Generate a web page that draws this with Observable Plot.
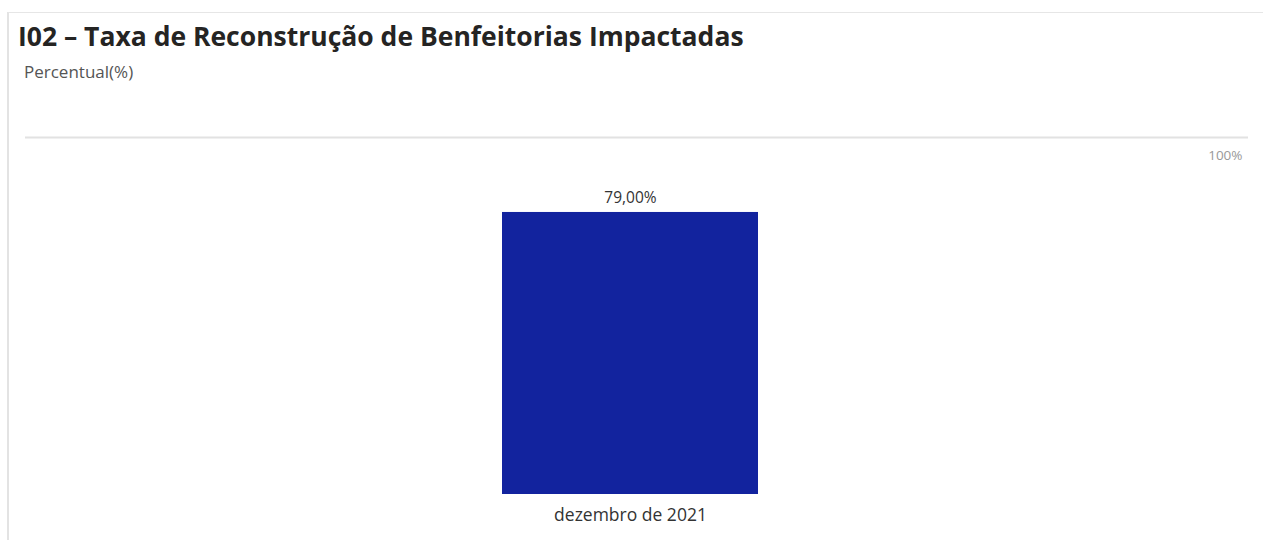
<!DOCTYPE html>
<html>
<head>
<meta charset="utf-8">
<script src="https://cdn.jsdelivr.net/npm/d3@7"></script>
<script src="https://cdn.jsdelivr.net/npm/@observablehq/plot@0.6"></script>
<style>
  html, body { margin: 0; padding: 0; background: #fff; width: 1263px; height: 540px; overflow: hidden; }
  #frame { position: absolute; left: 7px; top: 12px; width: 1256px; height: 528px;
           border-left: 2px solid #e3e3e3; border-top: 1px solid #e6e6e6; }
  #title { position: absolute; left: 18px; top: 18px; font-family: "Open Sans", sans-serif;
           font-weight: 700; font-size: 26.5px; line-height: 36px; color: #252423; white-space: nowrap; }
  #subtitle { position: absolute; left: 24px; top: 61px; font-family: "Open Sans", sans-serif;
           font-size: 17px; line-height: 22px; color: #555; white-space: nowrap; }
  #chart { position: absolute; left: 0; top: 100px; }
</style>
</head>
<body>
<div id="frame"></div>
<div id="title">I02 – Taxa de Reconstrução de Benfeitorias Impactadas</div>
<div id="subtitle">Percentual(%)</div>
<div id="chart"></div>
<script>
const categories = ["dezembro de 2021"];
const values = [79];
const gridTicks = [100];
const gridTickLabels = ["100%"];

const data = categories.map((c, i) => ({ month: c, value: values[i] }));
const fmt = v => v.toFixed(2).replace(".", ",") + "%";

const plot = Plot.plot({
  width: 1263,
  height: 440,
  marginLeft: 25,
  marginRight: 15,
  marginTop: 37,
  marginBottom: 46,
  style: { fontFamily: "Open Sans, sans-serif", background: "transparent" },
  x: { domain: categories, paddingInner: 0, paddingOuter: 1.8794, align: 0.4928, label: null },
  y: { domain: [0, 100], axis: null },
  marks: [
    Plot.ruleY(gridTicks, { stroke: "#e2e2e2", strokeWidth: 2 }),
    Plot.text(gridTicks, { y: d => d, frameAnchor: "right", text: (d, i) => gridTickLabels[i],
      textAnchor: "end", dx: -6, dy: 18, fill: "#999", fontSize: 13.5 }),
    Plot.barY(data, { x: "month", y: "value", fill: "#12239e" }),
    Plot.text(data, { x: "month", y: "value", text: d => fmt(d.value), dy: -9,
      lineAnchor: "bottom", fill: "#333", fontSize: 15.5 }),
    Plot.axisX({ tickSize: 0, tickPadding: 14, fontSize: 17.5, fill: "#333", label: null })
  ]
});
document.getElementById("chart").appendChild(plot);
</script>
</body>
</html>
